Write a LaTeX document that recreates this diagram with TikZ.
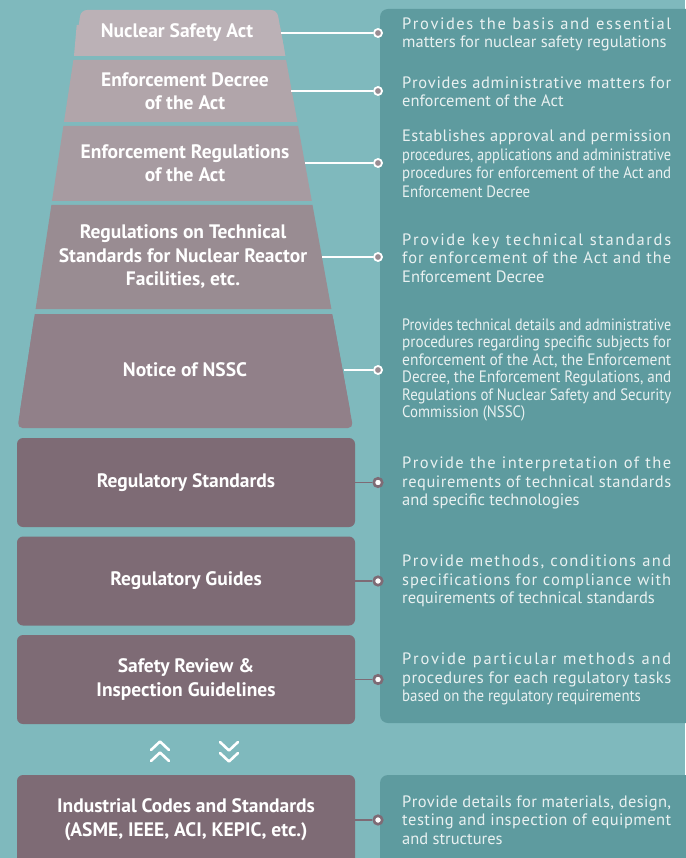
\documentclass[tikz,border=0pt]{standalone}
\usepackage{graphicx}
\usepackage{fontspec}
\setmainfont{PT Sans}
\definecolor{bgcol}{HTML}{7FB9BD}
\definecolor{panelcol}{HTML}{5E9B9F}
\definecolor{lone}{HTML}{BBB1B6}
\definecolor{ltwo}{HTML}{B1A5AA}
\definecolor{lthree}{HTML}{A79BA1}
\definecolor{lfour}{HTML}{998C92}
\definecolor{lfive}{HTML}{918089}
\definecolor{boxcol}{HTML}{7E6B75}
\definecolor{desccol}{HTML}{E9F1F1}
\ExplSyntaxOn
\seq_new:N \l_my_words_seq
\NewDocumentCommand \jl { m }
  {
    \hbox_to_wd:nn { 269pt }
      {
        \seq_set_split:Nnn \l_my_words_seq { ~ } { #1 }
        \seq_map_indexed_inline:Nn \l_my_words_seq
          {
            \int_compare:nNnT { ##1 } > { 1 } { \hskip 0.25em plus 1.5fil \relax }
            \tl_map_inline:nn { ##2 } { ####1 \hskip 0pt plus 1fil \relax }
            \unskip
          }
      }
  }
\ExplSyntaxOff
\newcommand\fitl[1]{\resizebox{269pt}{\height}{#1}}
\newcommand\cndl[1]{\scalebox{0.9}[1]{#1}}
\begin{document}
\begin{tikzpicture}[x=1pt,y=-1pt,
  pyr/.style={text=white,align=center,inner sep=0pt,font=\fontsize{19.5}{23.5}\selectfont\bfseries},
  boxtext/.style={text=white,align=center,inner sep=0pt,font=\fontsize{19.5}{24}\selectfont\bfseries},
  box/.style={boxtext,fill=boxcol,rounded corners=6pt,minimum width=338pt,minimum height=89pt},
  desc/.style={text=desccol,align=left,inner sep=0pt,anchor=west,font=\fontsize{16.5}{18.5}\selectfont},
  tdot/.style={circle,draw=white,line width=1.8pt,fill=lfour,minimum size=8pt,inner sep=0pt},
  bdot/.style={circle,draw=boxcol,line width=2.6pt,fill=white,minimum size=8.5pt,inner sep=0pt},
  tline/.style={draw=white,line width=1.8pt},
  bline/.style={draw=boxcol,line width=1.8pt},
  chev/.style={draw=white,line width=2.6pt,line cap=round,line join=round}]
\useasboundingbox (0,0) rectangle (685,858);
\fill[bgcol] (0,0) rectangle (685,858);
% right panels
\fill[panelcol,rounded corners=8pt] (380,9) rectangle (710,723);
\fill[panelcol,rounded corners=8pt] (380,775) rectangle (710,900);
% pyramid layers
\fill[lone,rounded corners=6pt] (74,56) -- (81,10) -- (277,10) -- (285.4,56) -- cycle;
\fill[lone] (76.7,25) -- (279.7,25) -- (285.4,56) -- (74,56) -- cycle;
\fill[ltwo] (73.4,60) -- (286.1,60) -- (297.4,122) -- (64,122) -- cycle;
\fill[lthree] (63.4,126) -- (298.1,126) -- (311.8,201) -- (52,201) -- cycle;
\fill[lfour] (51.4,205) -- (312.5,205) -- (331.4,309) -- (35.6,309) -- cycle;
\fill[lfive,rounded corners=5pt] (34.8,314) -- (332.3,314) -- (353.1,428) -- (17.5,428) -- cycle;
\fill[lfive] (34.8,314) -- (332.3,314) -- (350,410) -- (20.2,410) -- cycle;
% pyramid texts
\node[pyr] (t1) at (177,33) {Nuclear Safety Act};
\node[pyr] (t2) at (185,91) {Enforcement Decree\\of the Act};
\node[pyr] (t3) at (185,163) {Enforcement Regulations\\of the Act};
\node[pyr] (t4) at (183,257) {Regulations on Technical\\Standards for Nuclear Reactor\\Facilities, etc.};
\node[pyr] (t5) at (185,370) {Notice of NSSC};
% edge points
\coordinate (e1) at (281,33);
\coordinate (e2) at (291,91);
\coordinate (e3) at (305,163);
\coordinate (e4) at (322,257);
\coordinate (e5) at (344,370);
% dots and connectors (top)
\node[tdot] (d1) at (378,33) {};
\node[tdot] (d2) at (378,91) {};
\node[tdot] (d3) at (378,163) {};
\node[tdot] (d4) at (378,257) {};
\node[tdot] (d5) at (378,370) {};
\foreach \i in {1,...,5} {\draw[tline] (e\i) -- (d\i);}
% lower boxes
\node[box] (b1) at (186,482.5) {Regulatory Standards};
\node[box] (b2) at (186,581) {Regulatory Guides};
\node[box] (b3) at (186,679.5) {Safety Review \&\\Inspection Guidelines};
\fill[boxcol,rounded corners=6pt] (17,775) rectangle (355,900);
\node[boxtext] (b4) at (186,820) {Industrial Codes and Standards\\(ASME, IEEE, ACI, KEPIC, etc.)};
\coordinate (e9) at (355,820);
\node[bdot] (d6) at (378,482.5) {};
\node[bdot] (d7) at (378,581) {};
\node[bdot] (d8) at (378,679.5) {};
\node[bdot] (d9) at (378,820) {};
\draw[bline] (b1.east) -- (d6);
\draw[bline] (b2.east) -- (d7);
\draw[bline] (b3.east) -- (d8);
\draw[bline] (e9) -- (d9);
% chevrons
\draw[chev] (151,750) -- (160,741.5) -- (169,750);
\draw[chev] (151,761) -- (160,752.5) -- (169,761);
\draw[chev] (220,742) -- (229,750.5) -- (238,742);
\draw[chev] (220,753) -- (229,761.5) -- (238,753);
% descriptions
\node[desc] (p1) at (402,34.5) {\jl{Provides the basis and essential}\\matters for nuclear safety regulations};
\node[desc] (p2) at (402,92) {\jl{Provides administrative matters for}\\enforcement of the Act};
\node[desc] (p3) at (402,164) {\jl{Establishes approval and permission}\\\fitl{procedures, applications and administrative}\\\fitl{procedures for enforcement of the Act and}\\\cndl{Enforcement Decree}};
\node[desc] (p4) at (402,258) {\jl{Provide key technical standards}\\\jl{for enforcement of the Act and the}\\Enforcement Decree};
\node[desc,font=\fontsize{16.5}{17.5}\selectfont] (p5) at (402,370) {\fitl{Provides technical details and administrative}\\\fitl{procedures regarding specific subjects for}\\\fitl{enforcement of the Act, the Enforcement}\\\fitl{Decree, the Enforcement Regulations, and}\\\fitl{Regulations of Nuclear Safety and Security}\\\cndl{Commission (NSSC)}};
\node[desc] (p6) at (402,483) {\jl{Provide the interpretation of the}\\\jl{requirements of technical standards}\\and specific technologies};
\node[desc] (p7) at (402,581) {\jl{Provide methods, conditions and}\\\jl{specifications for compliance with}\\requirements of technical standards};
\node[desc] (p8) at (402,679) {\jl{Provide particular methods and}\\\jl{procedures for each regulatory tasks}\\\cndl{based on the regulatory requirements}};
\node[desc] (p9) at (402,820) {\jl{Provide details for materials, design,}\\\jl{testing and inspection of equipment}\\and structures};
\end{tikzpicture}
\end{document}
